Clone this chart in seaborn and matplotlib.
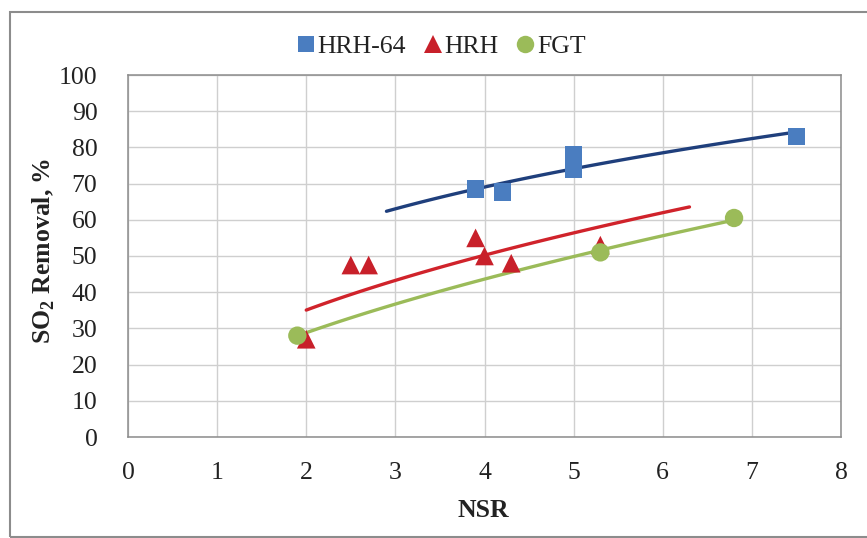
import numpy as np
import pandas as pd
import matplotlib
matplotlib.use("Agg")
import matplotlib.pyplot as plt
from matplotlib.patches import Rectangle
import seaborn as sns

# Measured SO2 removal versus normalized stoichiometric ratio
hrh64_nsr = [3.9, 4.2, 5.0, 5.0, 7.5]
hrh64_removal = [68.5, 67.7, 78.0, 74.0, 83.0]

hrh_nsr = [2.0, 2.5, 2.7, 3.9, 4.0, 4.3, 5.3]
hrh_removal = [27.0, 47.5, 47.5, 55.0, 50.0, 48.0, 53.0]

fgt_nsr = [1.9, 5.3, 6.8]
fgt_removal = [28.0, 51.0, 60.5]

x_ticks = [0, 1, 2, 3, 4, 5, 6, 7, 8]
y_ticks = [0, 10, 20, 30, 40, 50, 60, 70, 80, 90, 100]

sns.set_theme(style="white")
plt.rcParams["font.family"] = ["Liberation Serif", "DejaVu Serif"]
plt.rcParams["mathtext.fontset"] = "custom"
plt.rcParams["mathtext.rm"] = "Liberation Serif"
plt.rcParams["mathtext.bf"] = "Liberation Serif:bold"

FS = 18.5

series = [
    # name, x, y, marker, size, marker colour, line colour, backward, forward
    ("HRH-64", hrh64_nsr, hrh64_removal, "s", 155, "#4A7DC0", "#1F3F7C", 1.0, 0.0),
    ("HRH", hrh_nsr, hrh_removal, "^", 180, "#C8202A", "#D0232B", 0.0, 1.0),
    ("FGT", fgt_nsr, fgt_removal, "o", 175, "#9BBB59", "#9BBB59", 0.0, 0.0),
]

fig = plt.figure(figsize=(8.67, 5.38), dpi=100)
ax = fig.add_axes([128 / 867, 1 - 437 / 538, 713 / 867, 362 / 538])

handles = []
for name, xs, ys, marker, size, mcol, lcol, back, fwd in series:
    df = pd.DataFrame({"NSR": xs, "Removal": ys})
    # power-law trendline y = a * x^b fitted in log-log space
    b, lna = np.polyfit(np.log(df["NSR"]), np.log(df["Removal"]), 1)
    xf = np.linspace(min(xs) - back, max(xs) + fwd, 100)
    fit = pd.DataFrame({"NSR": xf, "Removal": np.exp(lna) * xf ** b})
    sns.lineplot(data=fit, x="NSR", y="Removal", ax=ax, color=lcol,
                 lw=2.4, zorder=3, legend=False)
    sns.scatterplot(data=df, x="NSR", y="Removal", ax=ax, marker=marker,
                    s=size, color=mcol, edgecolor="none", linewidth=0,
                    zorder=4, legend=False)
    handles.append(plt.Line2D([], [], ls="none", marker=marker,
                              markersize=np.sqrt(size) * 0.95,
                              markerfacecolor=mcol, markeredgewidth=0,
                              label=name))

ax.set_xlim(0, 8)
ax.set_ylim(0, 100)
ax.set_xticks(x_ticks)
ax.set_yticks(y_ticks)
ax.grid(True, color="#CFCFCF", lw=1.0)
ax.set_axisbelow(True)
for sp in ax.spines.values():
    sp.set_color("#8C8C8C")
    sp.set_linewidth(1.1)

ax.tick_params(axis="x", direction="in", length=5, width=1, color="#9A9A9A",
               labelsize=FS, pad=18, labelcolor="#222222")
ax.tick_params(axis="y", length=0, labelsize=FS, pad=22, labelcolor="#222222")

ax.set_xlabel("NSR", fontsize=FS, fontweight="bold", color="#222222",
              va="center")
ax.xaxis.set_label_coords(0.499, -0.204)
ax.set_ylabel(r"SO$_{\mathbf{2}}$ Removal, %", fontsize=FS,
              fontweight="bold", color="#222222", va="center")
ax.yaxis.set_label_coords(-0.118, 0.515)

fig.legend(handles=handles, loc="center", bbox_to_anchor=(0.508, 0.914),
           ncol=3, frameon=False, fontsize=FS, handlelength=0.8,
           handletextpad=0.05, columnspacing=0.65, labelcolor="#222222")

# outer chart-area border (runs off the right-hand edge)
fig.patches.append(Rectangle((10 / 867, 1 / 538), 1.2, 525 / 538,
                             transform=fig.transFigure, fill=False,
                             edgecolor="#8C8C8C", lw=1.5, clip_on=False))

fig.savefig("out.png", dpi=100, facecolor="white")
